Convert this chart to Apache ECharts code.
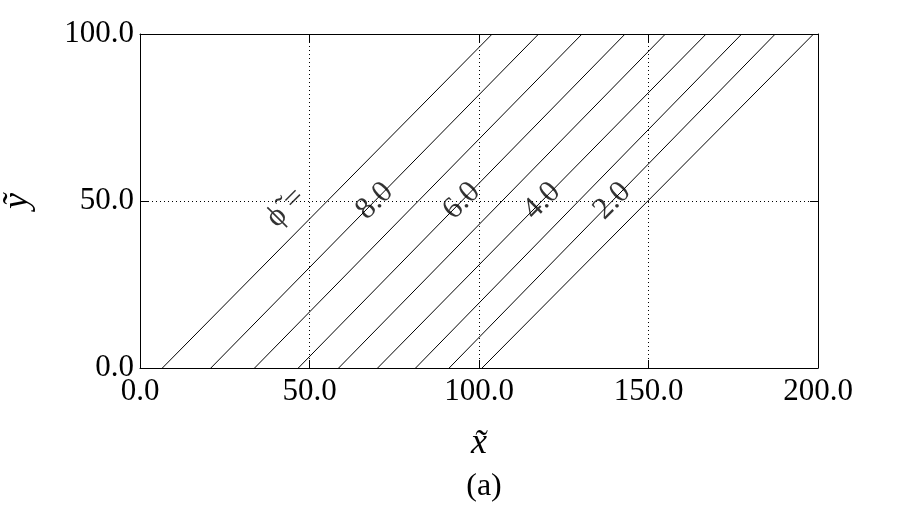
<!DOCTYPE html>
<html>
<head>
<meta charset="utf-8">
<script src="https://cdn.jsdelivr.net/npm/echarts@6/dist/echarts.min.js"></script>
<style>
  html, body { margin: 0; padding: 0; background: #fff; }
  #chart { width: 900px; height: 514px; }
</style>
</head>
<body>
<div id="chart"></div>
<script>
// contour levels, left to right
const levels = [9.0, 8.0, 7.0, 6.0, 5.0, 4.0, 3.0, 2.0, 1.0]
// where each contour meets y = 0 and y = 100
const xBottom = [6.6, 20.9, 33.8, 46.7, 58.6, 70.1, 81.3, 91.2, 100.9]
const xTop = [103.9, 117.6, 130.4, 143.1, 155.0, 167.0, 177.5, 187.4, 198.7]
const yRange = [0, 100]
// which contours carry a label
const labelled = [8.0, 6.0, 4.0, 2.0]
const xTicks = [0, 50, 100, 150, 200]
const yTicks = [0, 50, 100]

const serif = 'Liberation Serif'

const lineSeries = levels.map((lv, i) => ({
  type: 'line',
  name: lv.toFixed(1),
  data: [[xBottom[i], yRange[0]], [xTop[i], yRange[1]]],
  showSymbol: false,
  lineStyle: { color: '#000', width: 1 },
  silent: true
}))

// labels sit on the middle of their contour
const labelData = labelled.map(lv => {
  let i = levels.indexOf(lv)
  return { value: [(xBottom[i] + xTop[i]) / 2, (yRange[0] + yRange[1]) / 2], name: lv.toFixed(1) }
})
labelData.push({ value: [43, 48], name: 'ϕ\u0303 =' })

const tickFmt = v => v.toFixed(1)

const axisCommon = {
  type: 'value',
  axisLine: { show: true, onZero: false, lineStyle: { color: '#000', width: 1 } },
  axisTick: { show: true, inside: true, length: 8, lineStyle: { color: '#000' } },
  splitLine: { show: false }
}

echarts.init(document.getElementById('chart')).setOption({
  backgroundColor: '#fff',
  animation: false,
  title: {
    text: '(a)',
    left: 479,
    top: 466,
    textAlign: 'center',
    textStyle: { fontFamily: serif, fontSize: 32, fontWeight: 'normal', color: '#000' }
  },
  grid: { left: 140, right: 82, top: 34, bottom: 146, containLabel: false, outerBoundsMode: 'none' },
  xAxis: [
    Object.assign({}, axisCommon, {
      min: xTicks[0], max: xTicks[xTicks.length - 1], interval: 50,
      position: 'bottom',
      name: 'x\u0303',
      nameLocation: 'middle',
      nameGap: 58,
      nameTextStyle: { fontFamily: serif, fontSize: 36, fontStyle: 'italic', color: '#000' },
      axisLabel: { formatter: tickFmt, fontFamily: serif, fontSize: 31, color: '#000', margin: 8 },
      splitLine: { show: true, lineStyle: { type: [1, 3], color: '#000', width: 1 } }
    }),
    Object.assign({}, axisCommon, {
      min: xTicks[0], max: xTicks[xTicks.length - 1], interval: 50,
      position: 'top',
      axisLabel: { show: false }
    })
  ],
  yAxis: [
    Object.assign({}, axisCommon, {
      min: yTicks[0], max: yTicks[yTicks.length - 1], interval: 50,
      position: 'left',
      name: 'ỹ',
      nameLocation: 'middle',
      nameGap: 104,
      nameTextStyle: { fontFamily: serif, fontSize: 36, fontStyle: 'italic', color: '#000' },
      axisLabel: { formatter: tickFmt, fontFamily: serif, fontSize: 31, color: '#000', margin: 6 },
      splitLine: { show: true, lineStyle: { type: [1, 3], color: '#000', width: 1 } }
    }),
    Object.assign({}, axisCommon, {
      min: yTicks[0], max: yTicks[yTicks.length - 1], interval: 50,
      position: 'right',
      axisLabel: { show: false }
    })
  ],
  series: lineSeries.concat([{
    type: 'scatter',
    data: labelData,
    symbolSize: 0,
    silent: true,
    label: {
      show: true,
      position: 'inside',
      formatter: p => p.name,
      rotate: 45,
      fontFamily: serif,
      fontSize: 31,
      color: '#000',
      textBorderWidth: 0
    }
  }])
})
</script>
</body>
</html>
